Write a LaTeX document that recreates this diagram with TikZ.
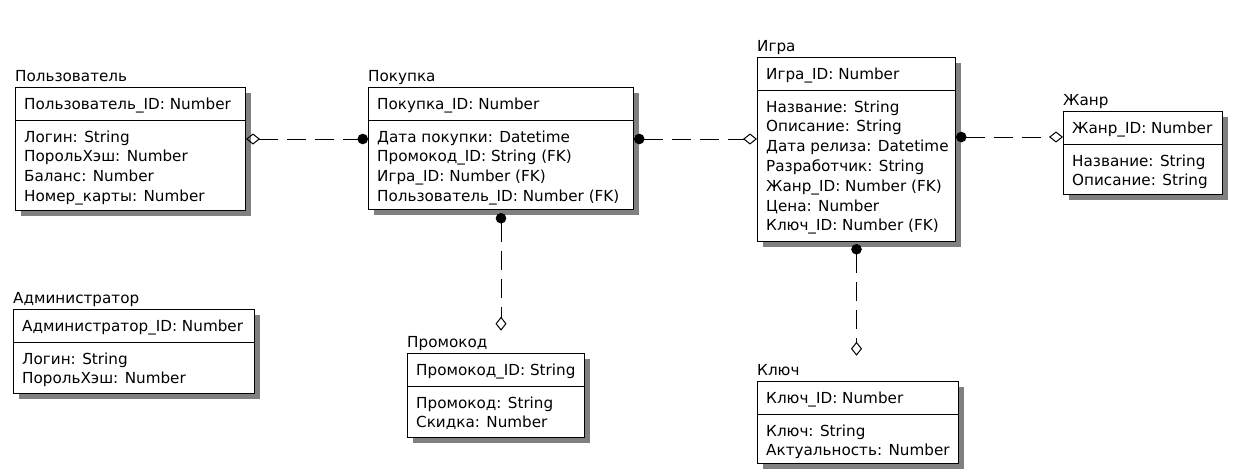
\documentclass[tikz,border=0pt]{standalone}
\usepackage{fontspec}
\setmainfont{DejaVu Sans}
\usetikzlibrary{arrows.meta,shadows,calc}
\tikzset{
  ebox/.style={draw, line width=1pt, fill=white, anchor=north west, inner sep=0pt,
    general shadow={fill=black!50, shadow xshift=5pt, shadow yshift=-5pt}},
  etext/.style={anchor=base west, inner sep=0pt, font=\fontsize{15.2}{19.8}\selectfont},
  rel/.style={line width=1pt, dash pattern=on 19pt off 9pt},
  sepline/.style={line width=1pt},
}
\newcommand\entity[8]{%
  \node[ebox, minimum width={#4-#2}, minimum height={#5-#3}] (#1) at (#2,#3) {};
  \node[etext] (#1-t) at ([yshift=6pt]#1.north west) {#6};
  \draw[sepline] ([yshift=-33pt]#1.north west) -- ([yshift=-33pt]#1.north east);
  \node[etext] (#1-h) at ([xshift=9pt,yshift=-22pt]#1.north west) {#7};
  \foreach \t [count=\i] in {#8}
    \node[etext] (#1-\i) at ([xshift=9pt,yshift={-55pt-(\i-1)*19.8pt}]#1.north west) {\t};
}
\begin{document}
\begin{tikzpicture}[x=1pt,y=-1pt]
\fill[white] (0,0) rectangle (1236,475);
\useasboundingbox (0,0) rectangle (1236,475);

\entity{polz}{15}{87}{245}{210}{Пользователь}{Пользователь\_ID: Number}{Логин: String, ПорольХэш: Number, Баланс: Number, Номер\_карты: Number}
\entity{pok}{368}{87}{633}{209}{Покупка}{Покупка\_ID: Number}{Дата покупки: Datetime, Промокод\_ID: String (FK), Игра\_ID: Number (FK), Пользователь\_ID: Number (FK)}
\entity{igra}{757}{57}{955}{241}{Игра}{Игра\_ID: Number}{Название: String, Описание: String, Дата релиза: Datetime, Разработчик: String, Жанр\_ID: Number (FK), Цена: Number, Ключ\_ID: Number (FK)}
\entity{zhanr}{1063}{111}{1222}{194}{Жанр}{Жанр\_ID: Number}{Название: String, Описание: String}
\entity{admin}{13}{309}{254}{393}{Администратор}{Администратор\_ID: Number}{Логин: String, ПорольХэш: Number}
\entity{promo}{407}{353}{584}{437}{Промокод}{Промокод\_ID: String}{Промокод: String, Скидка: Number}
\entity{key}{757}{381}{958}{463}{Ключ}{Ключ\_ID: Number}{Ключ: String, Актуальность: Number}

\draw[rel, {Diamond[open,length=14pt,width=11pt]}-{Circle[length=10.5pt]}]
  ([yshift=-52pt]polz.north east) -- ([yshift=-52pt]pok.north west);
\draw[rel, {Circle[length=10.5pt]}-{Diamond[open,length=14pt,width=11pt]}]
  ([yshift=-52pt]pok.north east) -- ([yshift=-82pt]igra.north west);
\draw[rel, {Circle[length=10.5pt]}-{Diamond[open,length=14pt,width=11pt]}]
  ([yshift=-80pt]igra.north east) -- ([yshift=-26pt]zhanr.north west);
\draw[rel, {Circle[length=10.5pt]}-{Diamond[open,length=14pt,width=11pt]}]
  ([yshift=-3pt]pok.south) -- ($(pok.south |- promo-t.north)+(0pt,5pt)$);
\draw[rel, {Circle[length=10.5pt]}-{Diamond[open,length=14pt,width=11pt]}]
  ([yshift=-2pt]igra.south) -- ($(igra.south |- key-t.north)+(0pt,8pt)$);
\end{tikzpicture}
\end{document}
